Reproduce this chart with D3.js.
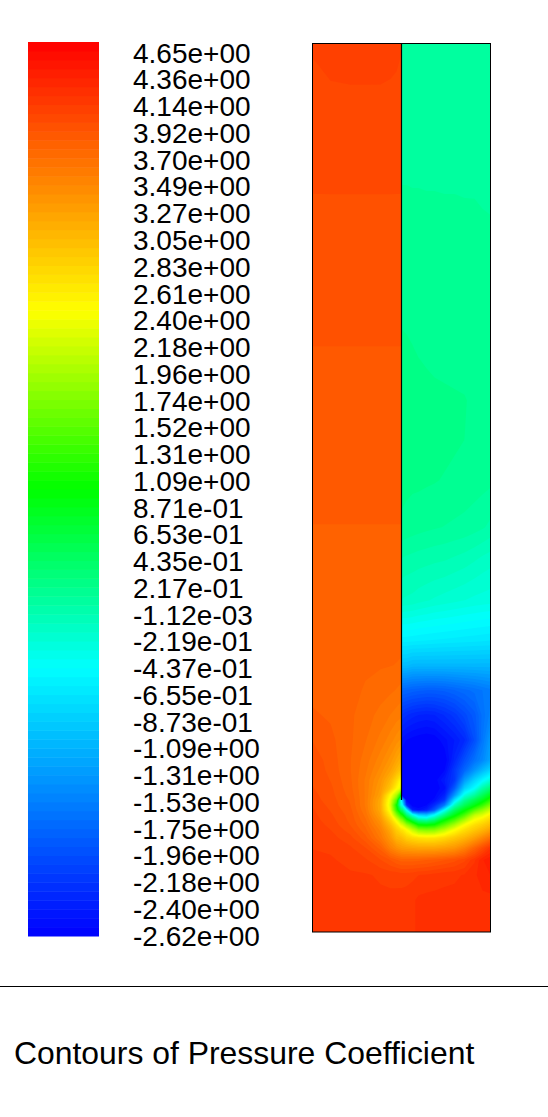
<!DOCTYPE html>
<html>
<head>
<meta charset="utf-8">
<script src="https://cdn.jsdelivr.net/npm/d3@7/dist/d3.min.js"></script>
<style>
html,body{margin:0;padding:0;background:#fff;overflow:hidden}
svg{display:block}
text{font-family:"Liberation Sans",Arial,sans-serif;fill:#000}
</style>
</head>
<body>
<svg id="chart" width="548" height="1117"></svg>
<script>
const title = "Contours of Pressure Coefficient";
const tickLabels = ["4.65e+00","4.36e+00","4.14e+00","3.92e+00","3.70e+00","3.49e+00","3.27e+00","3.05e+00","2.83e+00","2.61e+00","2.40e+00","2.18e+00","1.96e+00","1.74e+00","1.52e+00","1.31e+00","1.09e+00","8.71e-01","6.53e-01","4.35e-01","2.17e-01","-1.12e-03","-2.19e-01","-4.37e-01","-6.55e-01","-8.73e-01","-1.09e+00","-1.31e+00","-1.53e+00","-1.75e+00","-1.96e+00","-2.18e+00","-2.40e+00","-2.62e+00"];
const cpMin = -2.62, cpMax = 4.65, levelCount = 100;
const colorStops = [-2.62,-0.439,1.015,2.469,4.65];
const colorNames = ["#0000ff","#00ffff","#00ff00","#ffff00","#ff0000"];
// sampling stations of the field, across and along the channel (the wall sits between 88.5 and 89.5)
const gridX = [0,18,38,53,68,78,84,88.5,89.5,94,100,106,114,122,132,142,152,162,170,178];
const gridY = [0,19,42,152,227,305,357,397,437,484,517,557,597,622,647,672,697,717,727,737,745,752,757,762,767,772,777,782,787,795,805,817,832,857,889];
// pressure coefficient, one row per gridY, one column per gridX
const cpRows = [
[4.10,4.13,4.14,4.14,4.13,4.12,4.10,4.08, .10,.10,.10,.10,.10,.10,.10,.10,.10,.10,.10,.10],
[4.06,4.10,4.11,4.11,4.10,4.09,4.08,4.06, .10,.10,.10,.10,.10,.10,.10,.10,.10,.10,.10,.10],
[4.04,4.06,4.067,4.067,4.067,4.06,4.05,4.04, .11,.11,.11,.11,.11,.11,.11,.11,.11,.11,.11,.11],
[3.995,3.995,3.995,3.995,3.995,3.995,3.995,3.995, .146,.146,.145,.145,.144,.144,.143,.143,.142,.142,.141,.140],
[3.96,3.96,3.96,3.96,3.96,3.96,3.96,3.96, .185,.185,.18,.18,.175,.17,.165,.16,.16,.155,.15,.15],
[3.922,3.922,3.922,3.922,3.922,3.922,3.922,3.922, .225,.222,.217,.21,.20,.19,.185,.18,.175,.17,.165,.16],
[3.90,3.90,3.90,3.90,3.90,3.90,3.90,3.90, .24,.24,.24,.24,.24,.235,.23,.225,.22,.20,.19,.18],
[3.886,3.886,3.886,3.886,3.886,3.886,3.886,3.886, .24,.24,.24,.24,.24,.24,.235,.225,.215,.20,.19,.18],
[3.87,3.87,3.87,3.87,3.87,3.87,3.87,3.87, .24,.235,.23,.23,.225,.22,.21,.20,.19,.18,.17,.16],
[3.849,3.849,3.849,3.849,3.849,3.849,3.849,3.849, .20,.19,.18,.17,.16,.15,.14,.13,.12,.10,.08,.05],
[3.83,3.83,3.83,3.83,3.83,3.83,3.83,3.83, .06,.05,.04,.03,.02,.01,0,-.02,-.04,-.07,-.10,-.12],
[3.81,3.81,3.81,3.81,3.81,3.81,3.81,3.81, -.08,-.09,-.10,-.12,-.14,-.16,-.18,-.20,-.22,-.24,-.25,-.26],
[3.81,3.81,3.80,3.80,3.80,3.80,3.80,3.795, -.55,-.55,-.56,-.57,-.58,-.59,-.60,-.61,-.62,-.63,-.64,-.65],
[3.81,3.81,3.80,3.79,3.785,3.78,3.775,3.77, -1.0,-1.0,-1.05,-1.05,-1.05,-1.05,-1.05,-1.05,-1.05,-1.05,-1.05,-1.05],
[3.83,3.82,3.80,3.77,3.74,3.72,3.70,3.68, -1.73,-1.75,-1.78,-1.8,-1.82,-1.82,-1.8,-1.75,-1.7,-1.65,-1.6,-1.55],
[3.86,3.84,3.79,3.74,3.68,3.63,3.60,3.58, -2.2,-2.25,-2.3,-2.33,-2.35,-2.33,-2.25,-2.15,-2.0,-1.85,-1.65,-1.5],
[3.92,3.87,3.79,3.71,3.61,3.52,3.45,3.40, -2.5,-2.55,-2.58,-2.6,-2.62,-2.6,-2.5,-2.4,-2.27,-1.95,-1.6,-1.3],
[3.97,3.89,3.78,3.67,3.52,3.38,3.25,3.15, -2.62,-2.62,-2.62,-2.62,-2.62,-2.62,-2.62,-2.3,-1.95,-1.65,-1.45,-1.2],
[3.98,3.90,3.78,3.65,3.46,3.28,3.10,2.95, -2.62,-2.62,-2.62,-2.62,-2.62,-2.62,-2.55,-2.15,-1.75,-1.35,-1.05,-.8],
[3.99,3.92,3.79,3.62,3.38,3.10,2.80,2.50, -2.62,-2.62,-2.62,-2.62,-2.62,-2.6,-2.4,-2.15,-1.3,-.8,-.5,-.22],
[4.00,3.94,3.80,3.62,3.33,2.95,2.55,2.30, -2.62,-2.62,-2.62,-2.62,-2.62,-2.6,-2.5,-1.85,-.85,-.44,.05,.35],
[4.02,3.95,3.82,3.62,3.28,2.50,2.00,1.10, -2.62,-2.62,-2.62,-2.62,-2.62,-2.58,-2.35,-1.35,-.3,.1,.5,.86],
[4.03,3.96,3.84,3.62,3.20,2.32,1.50,-.40, -.8,-2.6,-2.62,-2.62,-2.62,-2.52,-2.15,-.7,.15,.55,.85,1.27],
[4.06,3.97,3.85,3.62,3.18,2.25,1.05,-.30, -.3,-2.25,-2.6,-2.62,-2.55,-2.25,-1.6,-.1,.5,.9,1.3,1.73],
[4.08,3.99,3.87,3.64,3.20,2.35,1.25,.45, .4,-.44,-2.35,-2.5,-2.35,-1.85,-.44,.45,.95,1.5,1.85,2.19],
[4.09,4.01,3.89,3.68,3.28,2.60,1.80,1.20, 1.15,.36,-.26,-.8,-.95,-.44,.28,.9,1.45,2.1,2.3,2.6],
[4.10,4.03,3.90,3.72,3.38,2.85,2.37,1.85, 1.8,1.2,.64,.2,.1,.36,1.0,1.45,2.0,2.47,2.65,2.84],
[4.11,4.05,3.92,3.76,3.46,3.05,2.70,2.35, 2.32,1.95,1.55,1.05,1.0,1.1,1.55,2.0,2.47,2.75,2.9,3.06],
[4.12,4.07,3.96,3.80,3.54,3.20,2.90,2.72, 2.70,2.5,2.15,1.85,1.75,1.8,2.1,2.47,2.75,2.95,3.1,3.28],
[4.13,4.10,4.02,3.88,3.62,3.35,3.10,3.05, 3.02,2.88,2.78,2.72,2.68,2.7,2.8,2.95,3.1,3.3,3.5,3.7],
[4.14,4.13,4.08,4.00,3.82,3.55,3.42,3.35, 3.33,3.3,3.27,3.25,3.25,3.25,3.3,3.38,3.55,3.8,4.0,4.2],
[4.15,4.15,4.12,4.08,4.00,3.92,3.86,3.82, 3.82,3.82,3.82,3.83,3.85,3.88,3.92,3.97,4.05,4.2,4.35,4.42],
[4.16,4.16,4.15,4.15,4.13,4.12,4.12,4.11, 4.11,4.11,4.12,4.14,4.15,4.17,4.19,4.2,4.22,4.27,4.33,4.36],
[4.17,4.17,4.16,4.16,4.16,4.16,4.16,4.17, 4.17,4.18,4.2,4.23,4.24,4.24,4.24,4.24,4.24,4.25,4.26,4.26],
[4.18,4.18,4.17,4.17,4.17,4.17,4.17,4.18, 4.18,4.19,4.2,4.23,4.25,4.25,4.25,4.25,4.25,4.25,4.25,4.25]
];

const svg = d3.select("#chart");
const nx = gridX.length, ny = gridY.length;
const flat = cpRows.flat();
const levels = d3.range(levelCount).map(i => cpMin + i * (cpMax - cpMin) / levelCount);
const step = (cpMax - cpMin) / levelCount;
const color = d3.scaleLinear().domain(colorStops).range(colorNames).interpolate(d3.interpolateRgb).clamp(true);

// panel scales
const x = d3.scaleLinear().domain([0,178]).range([312.5,490.5]);
const y = d3.scaleLinear().domain([0,889]).range([43.5,932]);
// d3.contours puts sample i at i+0.5 and closes at 0 and n
const px = d3.scaleLinear().domain([0,...gridX.map((_,i)=>i+0.5),nx]).range([gridX[0],...gridX,gridX[nx-1]].map(x));
const py = d3.scaleLinear().domain([0,...gridY.map((_,i)=>i+0.5),ny]).range([gridY[0],...gridY,gridY[ny-1]].map(y));
const path = d3.geoPath(d3.geoTransform({point(a,b){this.stream.point(px(a),py(b));}}));
const contours = d3.contours().size([nx,ny]).thresholds(levels)(flat);

svg.append("g").selectAll("path").data(contours).join("path")
  .attr("d", path)
  .attr("fill", d => color(d.value + step/2));

// panel frame and wall
svg.append("rect").attr("x",x(0)).attr("y",y(0)).attr("width",x(178)-x(0)).attr("height",y(889)-y(0))
  .attr("fill","none").attr("stroke","#000").attr("stroke-width",1);
svg.append("line").attr("x1",x(89)).attr("x2",x(89)).attr("y1",y(0)).attr("y2",y(757))
  .attr("stroke","#000").attr("stroke-width",1.2);

// colour bar
const barY = d3.scaleLinear().domain([cpMin,cpMax]).range([936,42]);
svg.append("g").selectAll("rect").data(levels).join("rect")
  .attr("x",28).attr("width",71)
  .attr("y",d => barY(d+step))
  .attr("height",d => barY(d)-barY(d+step)+0.5)
  .attr("fill",d => color(d+step/2));

// tick labels
const labelY = d3.scalePoint().domain(tickLabels).range([62.7,945.7]);
svg.append("g").selectAll("text").data(tickLabels).join("text")
  .attr("x",133).attr("y",d=>labelY(d))
  .attr("font-size",28).text(d=>d);

// rule and title
svg.append("line").attr("x1",0).attr("x2",548).attr("y1",986.5).attr("y2",986.5).attr("stroke","#000");
svg.append("text").attr("x",14).attr("y",1064).attr("font-size",31.9).text(title);
</script>
</body>
</html>
